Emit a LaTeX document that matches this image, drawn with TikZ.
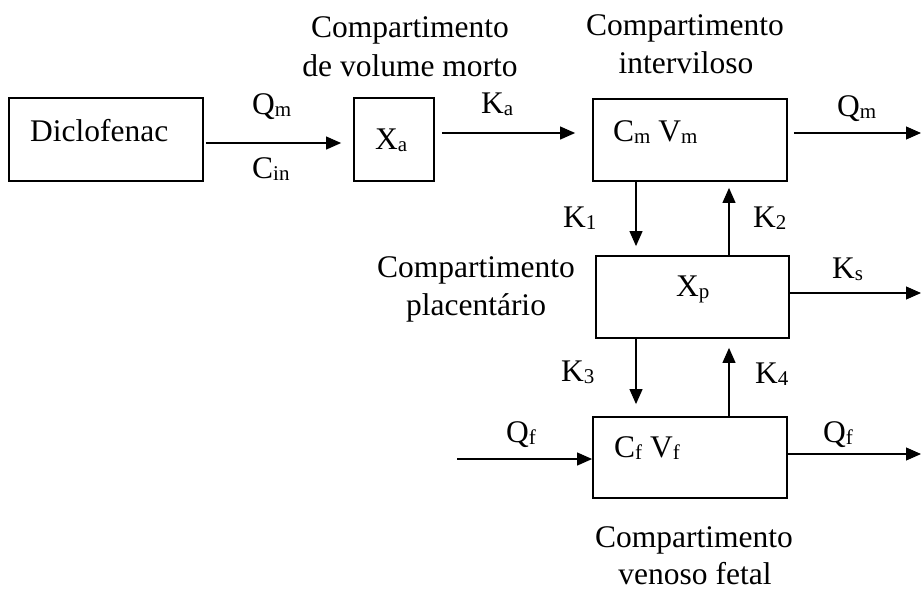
\documentclass[tikz,border=0pt]{standalone}
\usepackage{fontspec}
\setmainfont{Liberation Serif}
\usetikzlibrary{arrows.meta}
% lowered, smaller index letters
\newcommand\lowr[1]{\raisebox{-2pt}{\fontsize{21}{21}\selectfont #1}}
\begin{document}
\begin{tikzpicture}[x=1pt,y=-1pt,
  box/.style={draw, line width=1.8pt, inner sep=0pt},
  lbl/.style={anchor=base west, inner sep=0pt, font=\fontsize{31.5}{38}\selectfont},
  hd/.style={anchor=base, inner sep=0pt, font=\fontsize{31.5}{38}\selectfont},
  arr/.style={-{Triangle[length=15pt,width=13pt]}, line width=1.1pt}]
\useasboundingbox (0,0) rectangle (923,590);

% compartments
\node[box, minimum width=194pt, minimum height=83pt] (dic) at (106,139.5) {};
\node[box, minimum width=80pt, minimum height=83pt] (xa) at (394,139.5) {};
\node[box, minimum width=194pt, minimum height=82pt] (ivl) at (690,140) {};
\node[box, minimum width=193pt, minimum height=82pt] (plc) at (692.5,297) {};
\node[box, minimum width=194pt, minimum height=81pt] (fet) at (690,457.5) {};

% free ends of the outflows and the fetal inflow
\coordinate (qmout) at (921,133);
\coordinate (ksout) at (921,293);
\coordinate (qfin) at (457,459);
\coordinate (qfout) at (921,454);

% texts inside the boxes
\node[lbl] (tdic) at (30,141) {Diclofenac};
\node[lbl] (txa) at (375,149) {X\lowr{a}};
\node[lbl] (tcm) at (613,141) {C\lowr{m} V\lowr{m}};
\node[lbl] (txp) at (676,296) {X\lowr{p}};
\node[lbl] (tcf) at (614,457) {C\lowr{f} V\lowr{f}};

% flow and rate labels
\node[lbl] (tqm1) at (252,114) {Q\lowr{m}};
\node[lbl] (tcin) at (252,178) {C\lowr{in}};
\node[lbl] (tka) at (481,113) {K\lowr{a}};
\node[lbl] (tqm2) at (837,116) {Q\lowr{m}};
\node[lbl] (tk1) at (563,227) {K\lowr{1}};
\node[lbl] (tk2) at (753,227) {K\lowr{2}};
\node[lbl] (tks) at (832,278) {K\lowr{s}};
\node[lbl] (tk3) at (561,381) {K\lowr{3}};
\node[lbl] (tk4) at (755,383) {K\lowr{4}};
\node[lbl] (tqf1) at (506,442) {Q\lowr{f}};
\node[lbl] (tqf2) at (823,442) {Q\lowr{f}};

% compartment names
\node[hd] (h1a) at (410,37) {Compartimento};
\node[hd] (h1b) at (410,76) {de volume morto};
\node[hd] (h2a) at (685,35) {Compartimento};
\node[hd] (h2b) at (686,73) {interviloso};
\node[hd] (h3a) at (476,277) {Compartimento};
\node[hd] (h3b) at (476,315) {placentário};
\node[hd] (h4a) at (694,547) {Compartimento};
\node[hd] (h4b) at (695,584) {venoso fetal};

% connectors
\draw[arr] ([xshift=2pt,yshift=-3.5pt]dic.east) -- ([xshift=-12pt,yshift=-3.5pt]xa.west);
\draw[arr] ([xshift=7pt,yshift=6.5pt]xa.east) -- ([xshift=-17pt,yshift=7pt]ivl.west);
\draw[arr] ([xshift=6pt,yshift=7pt]ivl.east) -- (qmout);
\draw[arr] ([xshift=-54pt]ivl.south) -- ([xshift=-56.5pt,yshift=9pt]plc.north);
\draw[arr] ([xshift=36.5pt]plc.north) -- ([xshift=39pt,yshift=-6pt]ivl.south);
\draw[arr] ([yshift=4pt]plc.east) -- (ksout);
\draw[arr] ([xshift=-56.5pt]plc.south) -- ([xshift=-54pt,yshift=12pt]fet.north);
\draw[arr] ([xshift=39pt]fet.north) -- ([xshift=36.5pt,yshift=-9pt]plc.south);
\draw[arr] (qfin) -- ([yshift=-1.5pt]fet.west);
\draw[arr] ([yshift=3.5pt]fet.east) -- (qfout);
\end{tikzpicture}
\end{document}
